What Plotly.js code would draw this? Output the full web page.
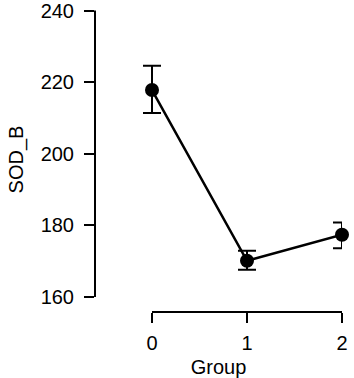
<!DOCTYPE html>
<html><head><meta charset="utf-8">
<script src="https://cdn.plot.ly/plotly-3.0.1.min.js"></script>
<style>body{margin:0;padding:0;background:#fff}#chart{width:354px;height:378px}</style>
</head><body><div id="chart"></div>
<script>
const groups = [0, 1, 2];
const means = [217.8, 170.1, 177.4];
const upper = [224.6, 172.9, 180.8];
const lower = [211.4, 167.6, 173.6];
const yTicks = [160, 180, 200, 220, 240];

const errPlus = means.map((m, i) => upper[i] - m);
const errMinus = means.map((m, i) => m - lower[i]);

const font = {family: 'Liberation Sans, Arial, sans-serif', size: 20, color: '#000'};

const trace = {
  x: groups, y: means, type: 'scatter', mode: 'lines+markers',
  line: {color: '#000', width: 2.5},
  marker: {color: '#000', size: 14},
  error_y: {type: 'data', array: errPlus, arrayminus: errMinus, symmetric: false,
            color: '#000', thickness: 2, width: 9},
  cliponaxis: false, hoverinfo: 'none'
};

const layout = {
  width: 354, height: 378,
  margin: {l: 95, r: 12, t: 7, b: 66},
  paper_bgcolor: '#fff', plot_bgcolor: '#fff',
  showlegend: false,
  font: font,
  xaxis: {
    range: [-0.6, 2], tickvals: groups, ticktext: groups.map(String),
    ticks: 'outside', ticklen: 10, tickwidth: 2, tickcolor: '#000',
    showgrid: false, zeroline: false, showline: false,
    tickfont: font, automargin: false, ticklabelstandoff: 3,
    title: {text: 'Group', font: font, standoff: 6}
  },
  yaxis: {
    range: [155.8, 241.0], tickvals: yTicks, ticktext: yTicks.map(String),
    ticks: 'outside', ticklen: 10, tickwidth: 2, tickcolor: '#000',
    showgrid: false, zeroline: false, showline: false,
    tickfont: font, automargin: false, ticklabelstandoff: 6,
    ticklabeloverflow: 'allow',
    title: {text: 'SOD_B', font: font, standoff: 11}
  },
  shapes: [
    {type: 'line', xref: 'paper', yref: 'y', x0: 0, x1: 0, y0: yTicks[0], y1: yTicks[yTicks.length-1],
     line: {color: '#000', width: 2}},
    {type: 'line', xref: 'x', yref: 'paper', x0: groups[0], x1: groups[groups.length-1], y0: 0, y1: 0,
     line: {color: '#000', width: 2}}
  ]
};

Plotly.newPlot('chart', [trace], layout, {staticPlot: true, displayModeBar: false});
</script></body></html>
